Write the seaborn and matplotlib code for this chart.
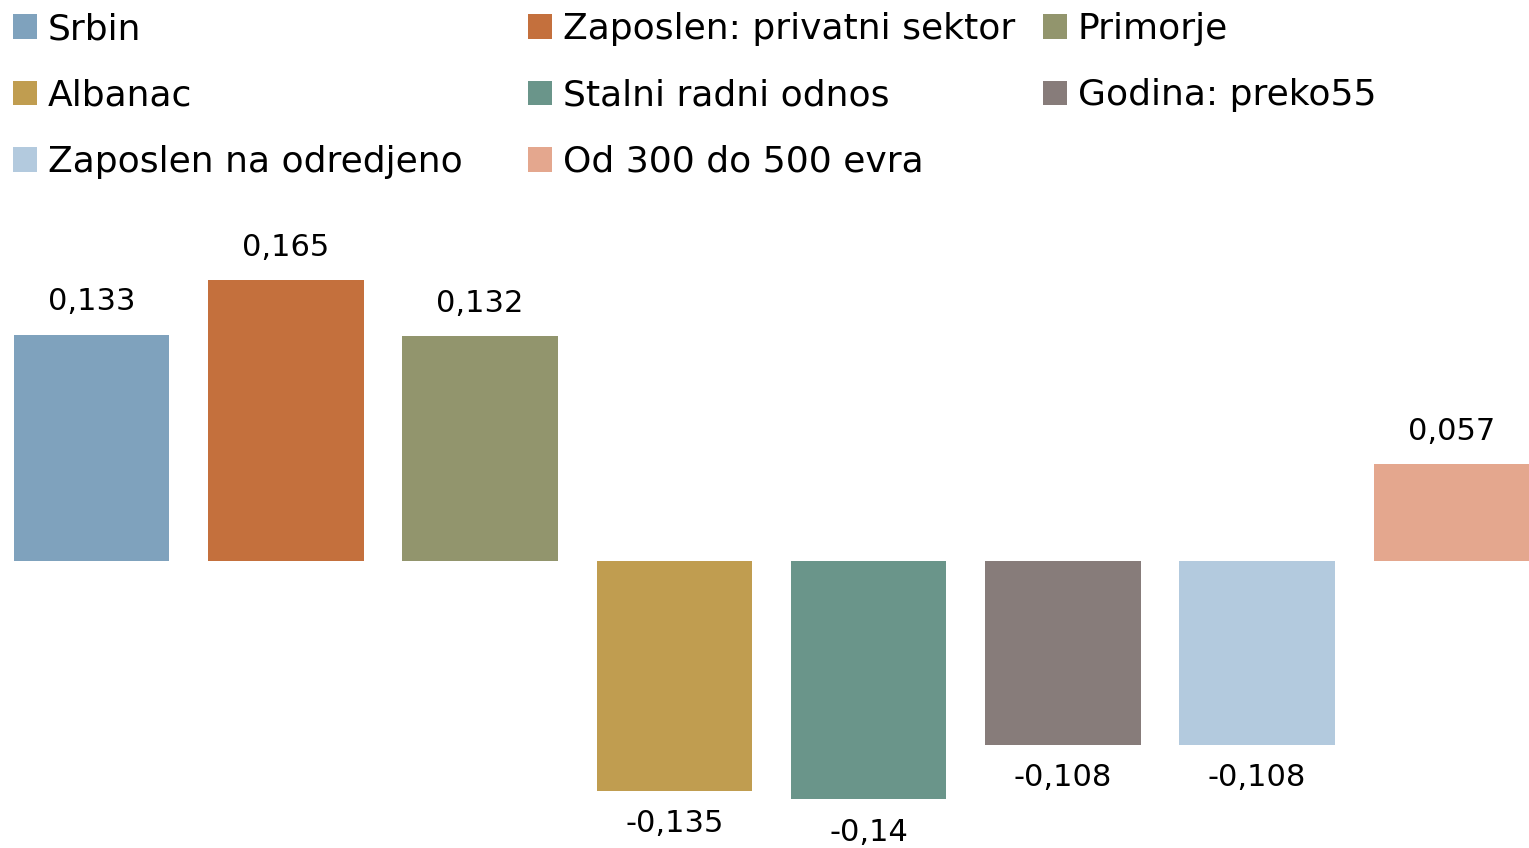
import matplotlib
matplotlib.use("Agg")
import matplotlib.pyplot as plt
from matplotlib.patches import Patch
import pandas as pd
import seaborn as sns

categories = [
    "Srbin",
    "Zaposlen: privatni sektor",
    "Primorje",
    "Albanac",
    "Stalni radni odnos",
    "Godina: preko55",
    "Zaposlen na odredjeno",
    "Od 300 do 500 evra",
]
values = [0.133, 0.165, 0.132, -0.135, -0.14, -0.108, -0.108, 0.057]
labels = ["0,133", "0,165", "0,132", "-0,135", "-0,14", "-0,108", "-0,108", "0,057"]
colors = ["#7FA2BD", "#C4703D", "#92956D", "#C09D50",
          "#6A958A", "#877C7A", "#B3CADE", "#E4A78E"]

sns.set_theme(style="white")
plt.rcParams["font.family"] = ["DejaVu Sans"]
plt.rcParams["text.color"] = "black"

df = pd.DataFrame({"cat": categories, "val": values})

fig = plt.figure(figsize=(15.29, 8.48), dpi=100)
ax = fig.add_axes([14 / 1529, 0, 1515 / 1529, 648 / 848])

sns.barplot(data=df, x="cat", y="val", hue="cat", palette=colors,
            dodge=False, legend=False, width=0.8, saturation=1,
            linewidth=0, ax=ax)

ax.set_xlim(-0.4, 7.4)
ax.set_ylim(-0.1685, 0.2120)
ax.axis("off")

for i, (v, lab) in enumerate(zip(values, labels)):
    if v >= 0:
        ax.annotate(lab, (i, v), xytext=(0, 13), textcoords="offset points",
                    ha="center", va="bottom", fontsize=22, color="black")
    else:
        ax.annotate(lab, (i, v), xytext=(0, -13), textcoords="offset points",
                    ha="center", va="top", fontsize=22, color="black")

# legend laid out row-wise in three columns
handles = [Patch(facecolor=c, edgecolor="none", label=n) for c, n in zip(colors, categories)]
col_x = [13, 528, 1043]
for col in range(3):
    hs = handles[col::3]
    fig.legend(handles=hs, loc="upper left",
               bbox_to_anchor=(col_x[col] / 1529, 1 - 12 / 848),
               frameon=False, fontsize=26, borderpad=0, borderaxespad=0,
               handlelength=0.665, handleheight=0.665, handletextpad=0.3,
               labelspacing=0.9, labelcolor="black")

fig.savefig("out.png", dpi=100)
